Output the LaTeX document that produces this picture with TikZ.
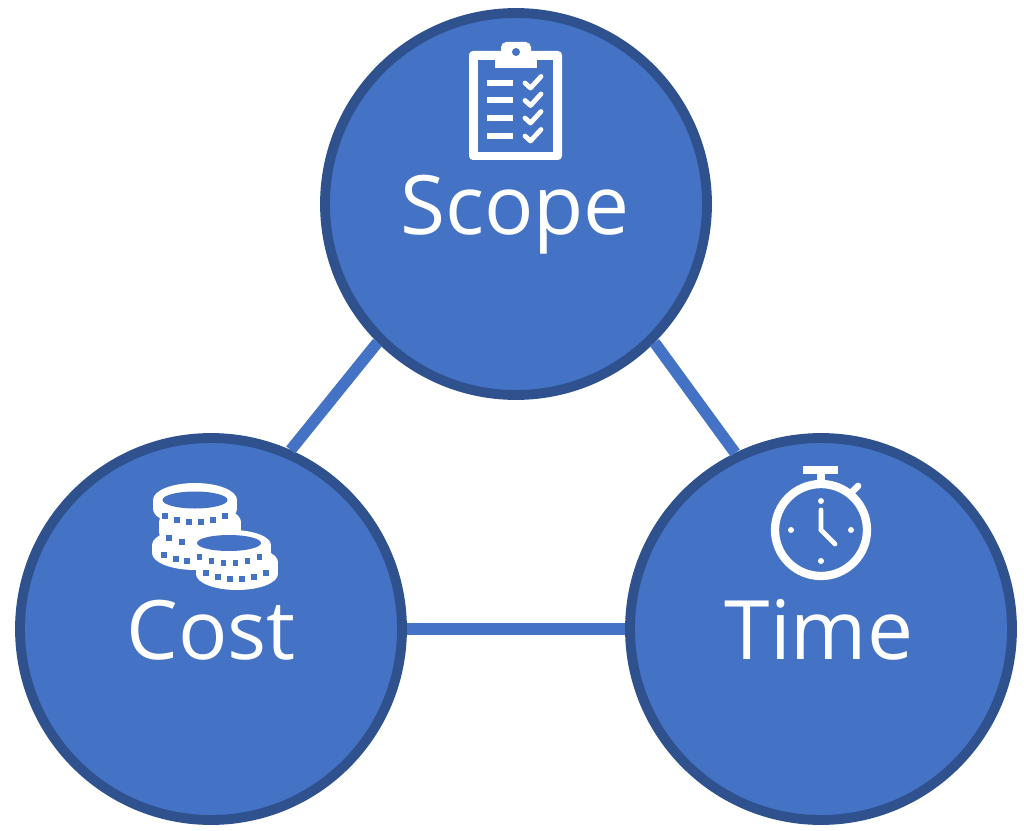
\documentclass[tikz,border=0pt]{standalone}
\usepackage{fontspec}
\setmainfont{Open Sans}
\definecolor{cfill}{HTML}{4472C4}
\definecolor{cedge}{HTML}{2F528F}
\newcommand{\px}{0.75pt}
\newcommand{\coinbody}[5]{% cx cy rx ry h
  \fill[white] (#1,#2) ellipse[x radius=#3,y radius=#4];
  \fill[white] (#1-#3,#2) rectangle (#1+#3,#2+#5);
  \fill[white] (#1,#2+#5) ellipse[x radius=#3,y radius=#4];}
\newcommand{\tickmark}[2]{\fill[cfill] (#1-2.6,#2-2.6) rectangle (#1+2.6,#2+2.6);}
\newcommand{\tickrow}[2]{%
  \foreach \dx/\dy in {-30/14,-18/18,-6/20,6/20,18/18,30/14}{\tickmark{#1+\dx}{#2+\dy}}}
\tikzset{
  x=\px,y=-\px,
  bigcircle/.style={circle,draw=cedge,fill=cfill,line width=7.4pt,minimum size=382*\px,inner sep=0pt},
  link/.style={draw=cfill,line width=8.6pt},
  label/.style={text=white,font=\fontsize{61.5}{62}\selectfont,anchor=base,inner sep=0pt},
  thinline/.style={draw=white,line width=3.6pt,line cap=round,line join=round},
}
\begin{document}
\begin{tikzpicture}
\useasboundingbox (0,0) rectangle (1024,831);
\fill[white] (0,0) rectangle (1024,831);
\node[bigcircle] (scope) at (516,204) {};
\node[bigcircle] (cost) at (211,629) {};
\node[bigcircle] (time) at (821,629) {};
\draw[link] (scope.225) -- (cost.66);
\draw[link] (scope.315) -- (time.116);
\draw[link] (cost) -- (time);
\node[label] (scopetxt) at (515,234) {Scope};
\node[label] (costtxt) at (211,659) {Cost};
\node[label] (timetxt) at (819,659) {Time};
% clipboard
\fill[white,rounded corners=3pt] (469,51) rectangle (562,160);
\fill[cfill] (478,60) rectangle (553,152);
\fill[white,rounded corners=4pt] (501,42) rectangle (531,62);
\fill[white] (495,60) rectangle (537,68);
\fill[cfill] (516,52) circle[radius=4];
\foreach \y in {83,100.5,118,136}{
  \fill[white] (487,\y-3) rectangle (513,\y+3);
  \draw[thinline] (525,\y) -- (530.5,\y+5) -- (541,\y-6.5);
}
% coins
\coinbody{195}{500}{42}{17}{9}
\coinbody{200}{522}{41}{17}{10}
\coinbody{195}{545}{43}{17}{8}
\coinbody{232}{545}{39}{15}{7}
\coinbody{237}{562}{41}{16}{12}
\fill[cfill] (195,500) ellipse[x radius=32.5,y radius=8.5];
\tickrow{195}{502}
\foreach \a/\b in {169/538,182/542}{\tickmark{\a}{\b}}
\foreach \a/\b in {164/555,176/559,187/561}{\tickmark{\a}{\b}}
\fill[cfill] (229,543) ellipse[x radius=32,y radius=8];
\tickrow{229.5}{543}
\tickrow{236}{559}
% stopwatch
\draw[white,line width=6.2pt] (821,530) circle[radius=46];
\fill[white] (803,466) rectangle (838,474);
\fill[white] (817,474) rectangle (825,486);
\draw[white,line width=5pt,line cap=round] (852,492) -- (858,486);
\foreach \a/\b in {821/501,791/530,851/530,821/561}{\fill[white] (\a,\b) circle[radius=3];}
\draw[white,line width=3.6pt,line cap=round,line join=miter] (821,510) -- (821,530) -- (835,544);
\end{tikzpicture}
\end{document}
